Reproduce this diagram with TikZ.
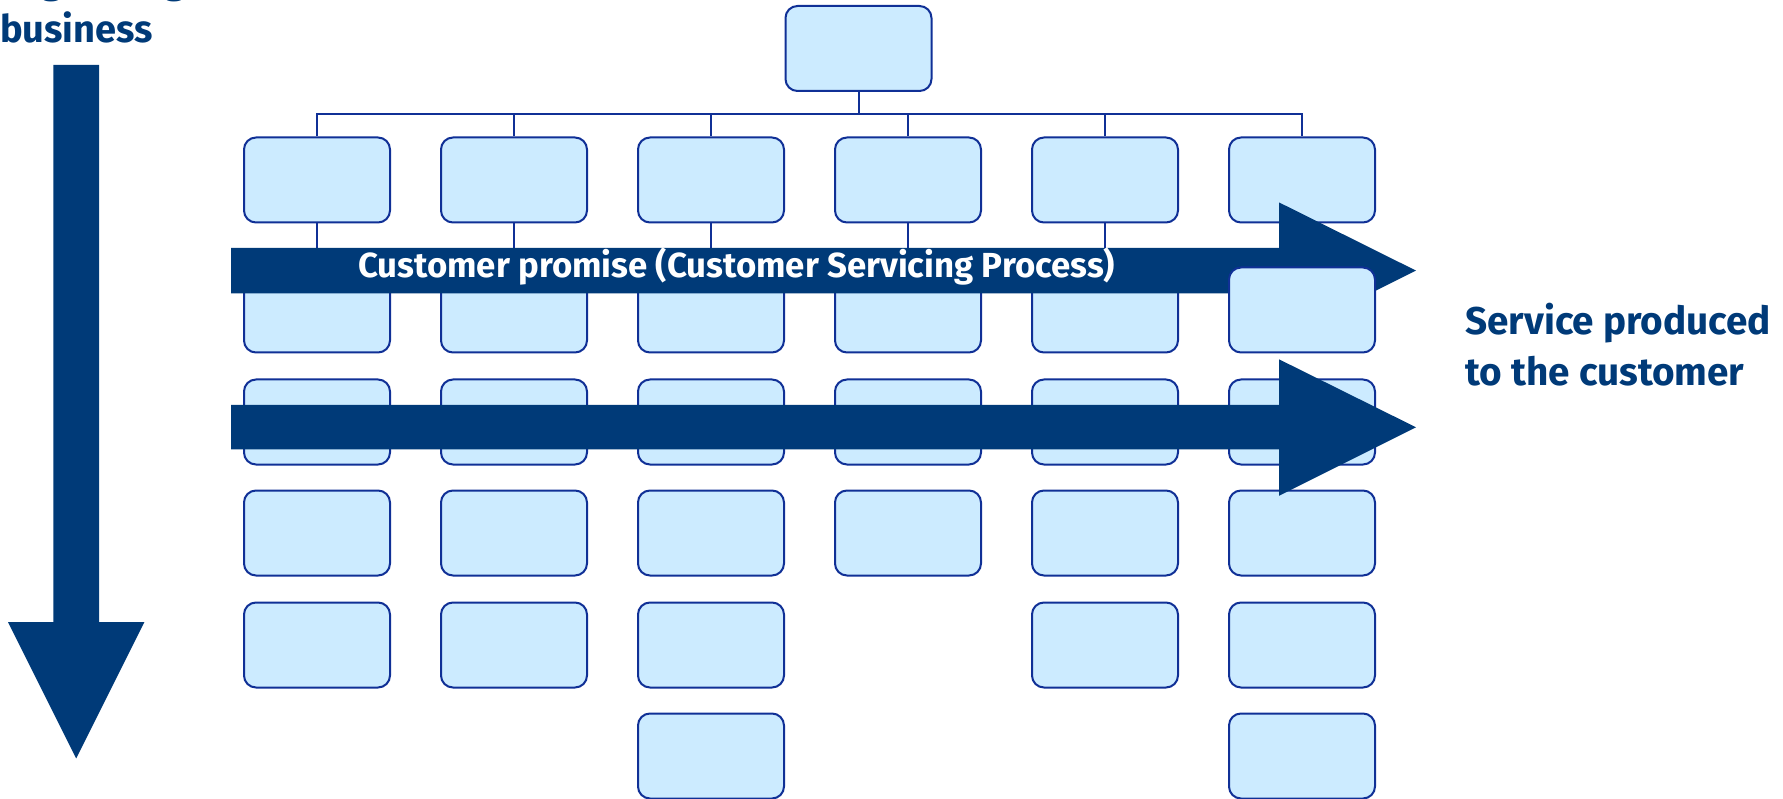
\documentclass[tikz,border=0pt]{standalone}
\usepackage{fontspec}
\setmainfont{Fira Sans}
\usetikzlibrary{backgrounds}
\definecolor{navy}{RGB}{0,58,120}
\definecolor{boxfill}{RGB}{204,235,255}
\definecolor{boxline}{RGB}{16,48,150}

\begin{document}
\begin{tikzpicture}[x=1pt,y=-1pt,
  orgbox/.style={draw=boxline, fill=boxfill, line width=2pt, rounded corners=12pt,
    minimum width=146pt, minimum height=85pt, inner sep=0pt},
  link/.style={draw=boxline, line width=2pt},
  bigarrow/.style={fill=navy},
  bluetext/.style={text=navy, inner sep=0pt, font=\bfseries\fontsize{38}{50}\selectfont},
  arrowtext/.style={text=white, inner sep=0pt, font=\bfseries\fontsize{34.8}{40}\selectfont}]
\useasboundingbox (0,0) rectangle (1783,799);

% top of the hierarchy
\node[orgbox] (top) at (858.5,48.5) {};

% columns of units (the second box of the last column goes on top of the first arrow)
\foreach \c/\x/\n in {1/317/5,2/514/5,3/711/6,4/908/4,5/1105/5,6/1302/6}{
  \foreach \r/\y in {1/180,2/310,3/422,4/533,5/645,6/756}{
    \ifnum\r>\n\relax\else
      \ifnum\c\r=62\relax\else
        \node[orgbox] (b\c-\r) at (\x,\y) {};
      \fi
    \fi
  }
}

% horizontal process arrow with its label
\fill[bigarrow] (231,248) -- (1279,248) -- (1279,202.4) -- (1416,270.6)
  -- (1279,339) -- (1279,293.4) -- (231,293.4) -- cycle;
\node[arrowtext, anchor=base west] (promise) at (358,278)
  {Customer promise (Customer Servicing Process)};

\node[orgbox] (b6-2) at (1302,310) {};

% second horizontal arrow
\fill[bigarrow] (231,405) -- (1279,405) -- (1279,359.3) -- (1416,427.3)
  -- (1279,495.8) -- (1279,449.4) -- (231,449.4) -- cycle;

% vertical arrow on the left
\fill[bigarrow] (53.4,65) -- (99,65) -- (99,622) -- (144.4,622) -- (76.2,758.4)
  -- (8,622) -- (53.4,622) -- cycle;

% texts
\node[bluetext, anchor=base west] (org) at (0,-6) {Organizing};
\node[bluetext, anchor=base west] (biz) at (0,42.7) {business};
\node[bluetext, anchor=base west, font=\bfseries\fontsize{38.7}{50}\selectfont] (srv1) at (1465,335) {Service produced};
\node[bluetext, anchor=base west, font=\bfseries\fontsize{38.7}{50}\selectfont] (srv2) at (1465,385) {to the customer};

% connectors behind everything
\begin{scope}[on background layer]
  \coordinate (bus) at (858.5,115);
  \draw[link] (top.south) -- (bus);
  \draw[link] (b1-1.north) -- ++(0,-22.5) -| (b6-1.north);
  \foreach \c in {2,3,4,5}{
    \draw[link] (b\c-1.north) -- ++(0,-22.5);
  }
  \foreach \c in {1,...,6}{
    \draw[link] (b\c-1.south) -- (b\c-2.north);
  }
\end{scope}
\end{tikzpicture}
\end{document}
